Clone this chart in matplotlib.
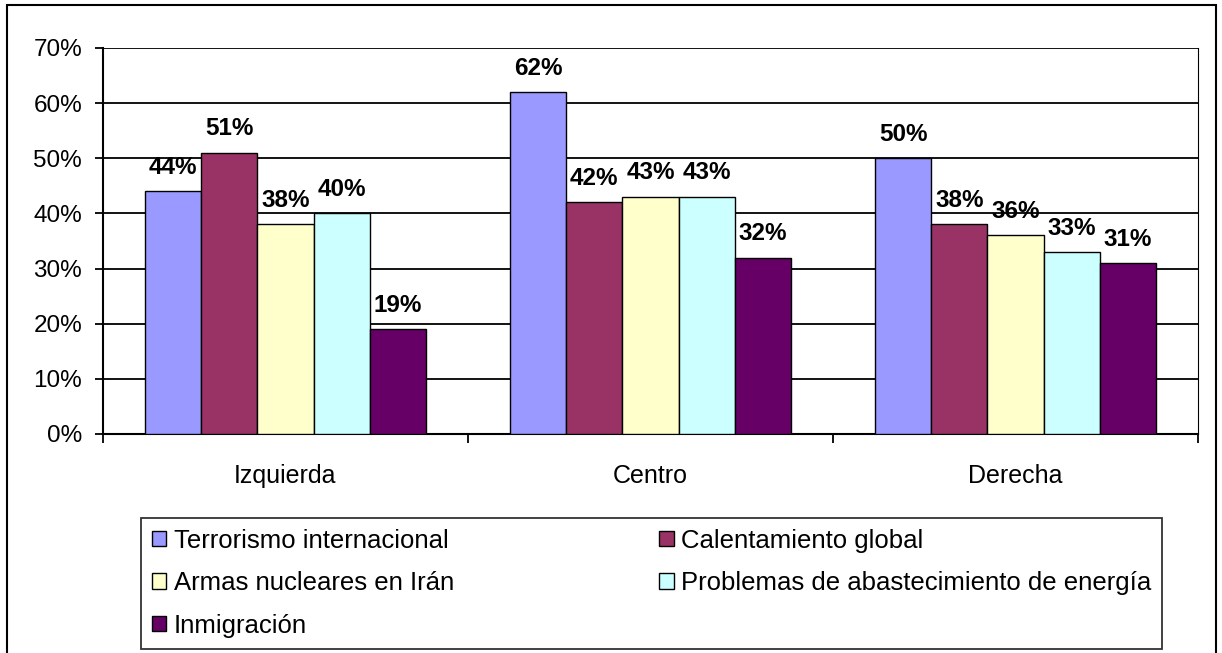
import numpy as np
import matplotlib
matplotlib.use("Agg")
import matplotlib.pyplot as plt
from matplotlib.patches import Rectangle

plt.rcParams['font.family'] = ['Liberation Sans', 'DejaVu Sans']

# datos
grupos = ['Izquierda', 'Centro', 'Derecha']
series = ['Terrorismo internacional', 'Calentamiento global', 'Armas nucleares en Irán',
          'Problemas de abastecimiento de energía', 'Inmigración']
terrorismo = [44, 62, 50]
calentamiento = [51, 42, 38]
armas = [38, 43, 36]
energia = [40, 43, 33]
inmigracion = [19, 32, 31]
colores = ['#9999FF', '#993366', '#FFFFCC', '#CCFFFF', '#660066']
y_ticks = [0, 10, 20, 30, 40, 50, 60, 70]

valores = [terrorismo, calentamiento, armas, energia, inmigracion]

fig = plt.figure(figsize=(12.22, 6.53), dpi=100)
W, H = 1222, 653
ax = fig.add_axes([103 / W, 1 - 434 / H, (1198 - 103) / W, (434 - 48) / H])

x = np.arange(len(grupos))
ancho = 1 / 6.5
handles = []
for i, (vals, col) in enumerate(zip(valores, colores)):
    pos = x + (i - 2) * ancho
    b = ax.bar(pos, vals, width=ancho, color=col, edgecolor='black', linewidth=1.0, zorder=3)
    handles.append(b)
    for px, v in zip(pos, vals):
        ax.annotate('%d%%' % v, (px, v), xytext=(0, 9), textcoords='offset points',
                    ha='center', va='bottom', fontsize=17.5, fontweight='bold')

ax.set_xlim(-0.5, 2.5)
ax.set_ylim(0, 70)
ax.set_yticks(y_ticks)
ax.set_yticklabels(['%d%%' % t for t in y_ticks], fontsize=17.5)
ax.yaxis.grid(True, color='black', linewidth=1.3, zorder=0)

ax.set_xticks([-0.5, 0.5, 1.5, 2.5])
ax.set_xticklabels([])
ax.set_xticks(x, minor=True)
ax.set_xticklabels(grupos, minor=True, fontsize=18)
ax.tick_params(axis='x', which='major', length=6.5, width=1.3, direction='out')
ax.tick_params(axis='x', which='minor', length=0, pad=21.5)
ax.tick_params(axis='y', length=6, width=1.3, pad=9)

ax.spines['left'].set_linewidth(1.5)
ax.spines['bottom'].set_linewidth(1.5)
ax.spines['top'].set_visible(False)
ax.spines['right'].set_linewidth(0.8)

# leyenda en orden por filas (Excel)
orden = [0, 2, 4, 1, 3]
leg = fig.legend([handles[k] for k in orden], [series[k] for k in orden], ncol=2,
                 loc='upper left', bbox_to_anchor=(141 / W, 1 - 518 / H),
                 fontsize=18.5, frameon=True, fancybox=False, edgecolor='black',
                 handlelength=0.55, handleheight=0.55, handletextpad=0.3,
                 columnspacing=8.0, labelspacing=0.72, borderpad=0.42, borderaxespad=0)
leg.get_frame().set_linewidth(1.3)

# marco exterior
fig.patches.append(Rectangle((7 / W, -5 / H), (1216 - 7) / W, (659 - 6) / H,
                             transform=fig.transFigure, fill=False, edgecolor='black',
                             linewidth=1.5))

plt.savefig('out.png', dpi=100)
